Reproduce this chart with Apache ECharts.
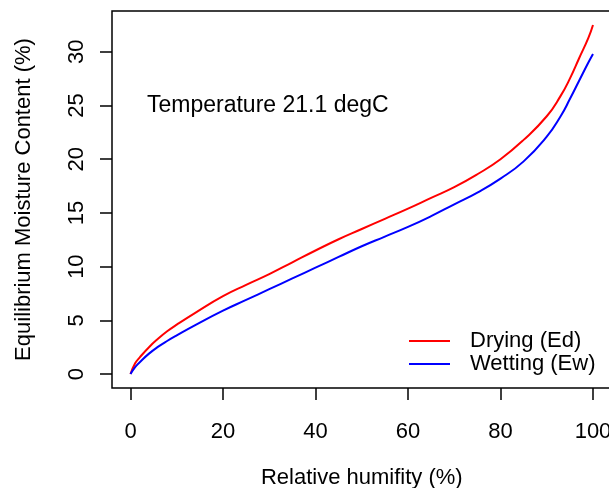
<!DOCTYPE html>
<html>
<head>
<meta charset="utf-8">
<script src="https://cdn.jsdelivr.net/npm/echarts@6/dist/echarts.min.js"></script>
<style>
html,body{margin:0;padding:0;background:#fff;}
#chart{width:609px;height:488px;}
</style>
</head>
<body>
<div id="chart"></div>
<script>
var relativeHumidity = [0,1,2,4,6,8,10,14,20,25,30,35,40,45,50,55,60,65,70,75,80,85,90,93,95,97,99,100];
var dryingEd = [0,1.0,1.55,2.5,3.3,4.0,4.6,5.7,7.25,8.3,9.3,10.4,11.5,12.55,13.5,14.45,15.4,16.4,17.4,18.6,20.0,21.8,24.0,25.9,27.5,29.4,31.3,32.5];
var wettingEw = [0,0.65,1.1,1.9,2.55,3.1,3.6,4.55,5.9,6.9,7.9,8.9,9.9,10.9,11.9,12.8,13.7,14.7,15.8,16.9,18.2,19.8,22.1,24.0,25.6,27.3,29.0,29.8];
var xTicks = [0,20,40,60,80,100];
var yTicks = [0,5,10,15,20,25,30];
var seriesNames = ['Drying (Ed)','Wetting (Ew)'];
var annotation = 'Temperature 21.1 degC';
var xTitle = 'Relative humifity (%)';
var yTitle = 'Equilibrium Moisture Content (%)';

function pairs(xs, ys){ return xs.map(function(x,i){ return [x, ys[i]]; }); }

var FONT = "'Liberation Sans', Arial, Helvetica, sans-serif";
var chart = echarts.init(document.getElementById('chart'), null, {renderer:'canvas'});
chart.setOption({
  animation:false,
  backgroundColor:'#ffffff',
  textStyle:{fontFamily:FONT},
  title:{
    text:annotation, left:147, top:94, padding:0,
    textStyle:{fontFamily:FONT, fontSize:23, fontWeight:'normal', color:'#000'}
  },
  legend:{
    orient:'vertical', left:409, top:330, padding:0,
    itemWidth:41, itemHeight:14, itemGap:1,
    icon:'path://M0,0L41,0L41,2L0,2Z',
    textStyle:{fontFamily:FONT, fontSize:22, color:'#000', lineHeight:22, padding:[0,0,0,15]},
    data:seriesNames
  },
  grid:{left:112, top:11, width:499.5, height:377, show:true, borderColor:'#000', borderWidth:1.5,
        backgroundColor:'transparent', outerBoundsMode:'none', containLabel:false},
  xAxis:{
    type:'value', min:-4, max:104,
    name:xTitle, nameLocation:'middle', nameGap:79,
    nameTextStyle:{fontFamily:FONT, fontSize:22, color:'#000'},
    axisLine:{show:false, onZero:false},
    axisTick:{show:true, length:12, lineStyle:{color:'#000', width:1.5}, customValues:xTicks},
    axisLabel:{fontFamily:FONT, fontSize:22, color:'#000', margin:33, customValues:xTicks},
    splitLine:{show:false}
  },
  yAxis:{
    type:'value', min:-1.3, max:33.8,
    name:yTitle, nameLocation:'middle', nameGap:77, nameRotate:90,
    nameTextStyle:{fontFamily:FONT, fontSize:22, color:'#000'},
    axisLine:{show:false, onZero:false},
    axisTick:{show:true, length:12, lineStyle:{color:'#000', width:1.5}, customValues:yTicks},
    axisLabel:{fontFamily:FONT, fontSize:22, color:'#000', margin:24, rotate:90, customValues:yTicks},
    splitLine:{show:false}
  },
  series:[
    {name:seriesNames[0], type:'line', data:pairs(relativeHumidity, dryingEd), symbol:'none', smooth:true,
     lineStyle:{color:'#ff0000', width:2}, itemStyle:{color:'#ff0000'}},
    {name:seriesNames[1], type:'line', data:pairs(relativeHumidity, wettingEw), symbol:'none', smooth:true,
     lineStyle:{color:'#0000ff', width:2}, itemStyle:{color:'#0000ff'}}
  ]
});
</script>
</body>
</html>
